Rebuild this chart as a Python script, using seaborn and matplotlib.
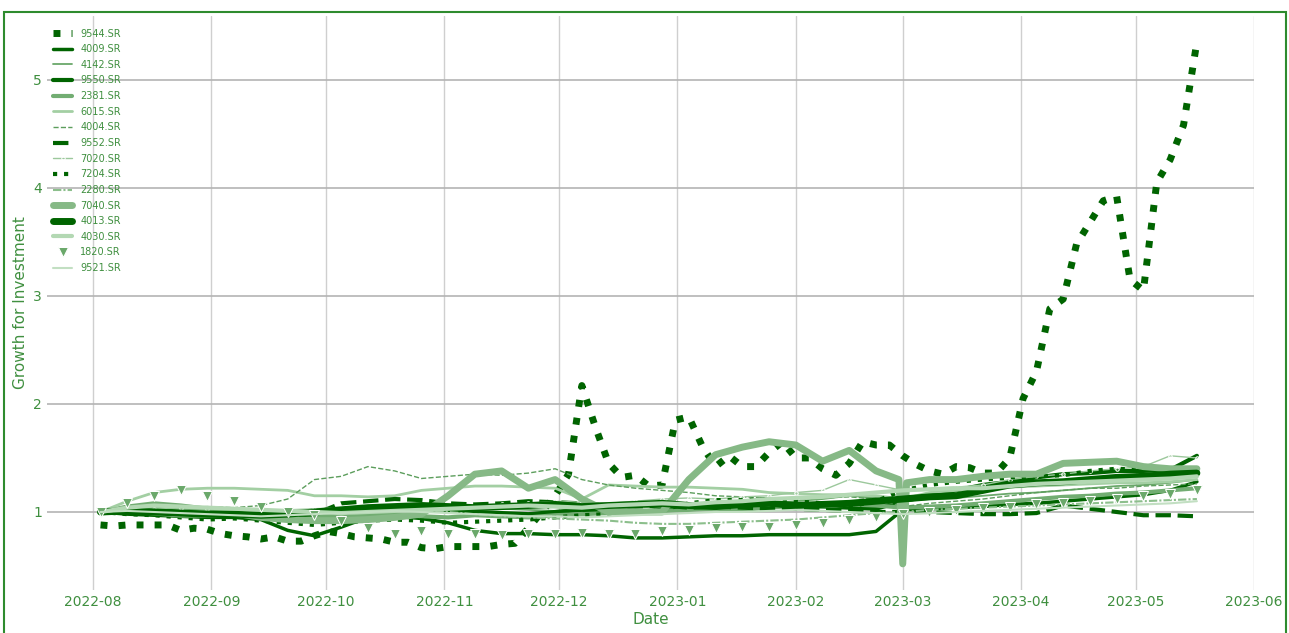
import numpy as np
import pandas as pd
import seaborn as sns
import matplotlib.pyplot as plt
import matplotlib.dates as mdates
from matplotlib.patches import Rectangle

sns.set_theme(style="whitegrid")
plt.rcParams["font.family"] = ["DejaVu Sans"]

TEXT = "#3f8f3f"
DARK = "#006400"
MID = "#5c9e5c"
LIGHT = "#a3cfa3"

# weekly sample dates shared by most tickers
dates = pd.date_range("2022-08-03", "2023-05-17", freq="7D")

# 9544.SR is sampled twice a week because it moves a lot
dates_9544 = pd.date_range("2022-08-03", periods=83, freq="84h")
g_9544 = [0.88, 0.87, 0.88, 0.88, 0.88, 0.88, 0.83, 0.85, 0.84, 0.80,
          0.78, 0.77, 0.75, 0.77, 0.73, 0.73, 0.78, 0.82, 0.80, 0.77,
          0.76, 0.75, 0.72, 0.72, 0.67, 0.66, 0.68, 0.68, 0.68, 0.68,
          0.70, 0.71, 0.85, 1.00, 1.15, 1.35, 2.17, 1.79, 1.45, 1.32,
          1.34, 1.24, 1.25, 1.85, 1.88, 1.61, 1.42, 1.52, 1.42, 1.42,
          1.55, 1.65, 1.50, 1.50, 1.40, 1.34, 1.45, 1.65, 1.62, 1.62,
          1.52, 1.44, 1.38, 1.35, 1.42, 1.41, 1.36, 1.36, 1.50, 2.05,
          2.30, 2.88, 2.97, 3.48, 3.68, 3.88, 3.92, 3.15, 3.05, 4.05,
          4.26, 4.58, 5.35]

g_4009 = [1.00, 0.98, 0.97, 0.96, 0.95, 0.95, 0.93, 0.83, 0.78, 0.86, 0.95, 0.96, 0.94, 0.90,
          0.83, 0.80, 0.80, 0.79, 0.79, 0.78, 0.76, 0.76, 0.77, 0.78, 0.78, 0.79, 0.79, 0.79,
          0.79, 0.82, 1.02, 1.03, 1.04, 1.05, 1.07, 1.08, 1.10, 1.12, 1.14, 1.16, 1.20, 1.28]
g_4142 = [1.00, 1.03, 1.05, 1.03, 1.02, 1.01, 1.00, 1.00, 1.02, 1.03, 1.02, 1.01, 1.00, 1.02,
          1.04, 1.03, 1.02, 1.01, 1.03, 1.02, 1.04, 1.05, 1.06, 1.07, 1.06, 1.08, 1.10, 1.12,
          1.15, 1.13, 1.10, 1.12, 1.13, 1.15, 1.17, 1.18, 1.20, 1.22, 1.24, 1.25, 1.27, 1.30]
g_9550 = [1.00, 1.00, 0.99, 0.98, 0.97, 0.96, 0.95, 0.97, 0.98, 0.99, 1.00, 1.02, 1.03, 1.02,
          1.00, 0.99, 0.98, 1.00, 1.02, 1.01, 1.00, 1.02, 1.04, 1.05, 1.06, 1.05, 1.06, 1.05,
          1.04, 1.03, 1.10, 1.15, 1.20, 1.25, 1.28, 1.32, 1.35, 1.36, 1.38, 1.38, 1.39, 1.52]
g_2381 = [1.00, 1.05, 1.08, 1.06, 1.03, 1.02, 1.01, 0.98, 0.96, 0.95, 0.97, 0.98, 0.96, 0.95,
          0.97, 0.96, 0.95, 0.97, 0.98, 0.99, 1.00, 1.01, 1.02, 1.03, 1.02, 1.04, 1.06, 1.05,
          1.07, 1.06, 1.04, 1.05, 1.06, 1.08, 1.10, 1.12, 1.14, 1.15, 1.17, 1.18, 1.20, 1.22]
g_6015 = [1.00, 1.10, 1.18, 1.21, 1.22, 1.22, 1.21, 1.20, 1.15, 1.15, 1.14, 1.15, 1.20, 1.22,
          1.24, 1.24, 1.23, 1.22, 1.12, 1.25, 1.24, 1.23, 1.23, 1.22, 1.21, 1.18, 1.17, 1.16,
          1.16, 1.15, 1.12, 1.18, 1.20, 1.22, 1.23, 1.24, 1.25, 1.26, 1.27, 1.27, 1.28, 1.30]
g_4004 = [1.00, 1.02, 1.03, 1.04, 1.05, 1.04, 1.06, 1.12, 1.30, 1.33, 1.42, 1.38, 1.31, 1.33,
          1.35, 1.34, 1.36, 1.40, 1.30, 1.25, 1.22, 1.20, 1.18, 1.15, 1.14, 1.13, 1.12, 1.13,
          1.14, 1.12, 1.05, 1.08, 1.10, 1.12, 1.15, 1.18, 1.20, 1.22, 1.22, 1.24, 1.25, 1.26]
g_9552 = [1.00, 1.01, 1.02, 1.00, 0.99, 0.98, 0.97, 0.96, 0.98, 1.08, 1.10, 1.12, 1.11, 1.08,
          1.07, 1.08, 1.10, 1.09, 1.08, 1.06, 1.05, 1.06, 1.04, 1.05, 1.04, 1.03, 1.03, 1.02,
          1.01, 1.00, 1.00, 1.00, 0.99, 0.98, 0.98, 0.99, 1.06, 1.03, 1.00, 0.97, 0.97, 0.96]
g_7020 = [1.00, 1.02, 1.03, 1.04, 1.03, 1.02, 1.01, 1.02, 1.03, 1.04, 1.05, 1.06, 1.07, 1.06,
          1.05, 1.07, 1.08, 1.10, 1.09, 1.08, 1.10, 1.12, 1.13, 1.12, 1.14, 1.15, 1.18, 1.20,
          1.30, 1.25, 1.20, 1.22, 1.23, 1.25, 1.30, 1.33, 1.35, 1.38, 1.40, 1.42, 1.52, 1.50]
g_7204 = [1.00, 0.98, 0.97, 0.95, 0.93, 0.94, 0.92, 0.90, 0.88, 0.90, 0.92, 0.93, 0.92, 0.90,
          0.91, 0.92, 0.93, 0.95, 0.97, 0.98, 0.99, 1.02, 1.08, 1.11, 1.11, 1.12, 1.10, 1.08,
          1.05, 1.10, 1.20, 1.25, 1.28, 1.30, 1.32, 1.33, 1.34, 1.38, 1.40, 1.39, 1.40, 1.40]
g_2280 = [1.00, 1.02, 1.01, 1.00, 0.99, 0.98, 0.97, 0.99, 1.01, 1.02, 1.03, 1.04, 1.02, 1.00,
          0.98, 0.96, 0.95, 0.94, 0.93, 0.92, 0.90, 0.89, 0.89, 0.90, 0.91, 0.92, 0.93, 0.95,
          0.97, 0.99, 1.00, 1.02, 1.03, 1.04, 1.05, 1.06, 1.07, 1.08, 1.09, 1.10, 1.11, 1.12]
g_7040 = [1.00, 1.02, 1.00, 0.98, 0.98, 0.99, 0.95, 0.93, 0.92, 0.92, 0.93, 0.95, 0.98, 1.15,
          1.35, 1.38, 1.22, 1.30, 1.12, 1.00, 1.00, 1.00, 1.30, 1.53, 1.60, 1.65, 1.62, 1.47,
          1.57, 1.38, 0.52, 1.30, 1.30, 1.33, 1.35, 1.35, 1.45, 1.46, 1.47, 1.42, 1.40, 1.40]
# the one-day drop of 7040.SR around 2023-03-01
dip_dates = pd.to_datetime(["2023-02-28", "2023-03-02"])
dip_7040 = [1.30, 1.27]
g_4013 = [1.00, 1.01, 1.00, 0.99, 0.98, 0.98, 0.97, 0.98, 1.00, 1.02, 1.04, 1.05, 1.06, 1.05,
          1.04, 1.05, 1.06, 1.07, 1.05, 1.06, 1.07, 1.08, 1.06, 1.05, 1.07, 1.08, 1.06, 1.07,
          1.08, 1.10, 1.12, 1.14, 1.15, 1.20, 1.25, 1.27, 1.28, 1.30, 1.32, 1.33, 1.35, 1.36]
g_4030 = [1.00, 1.04, 1.06, 1.05, 1.04, 1.03, 1.02, 1.01, 1.00, 0.99, 1.00, 1.01, 1.02, 1.03,
          1.04, 1.05, 1.06, 1.05, 1.04, 1.06, 1.07, 1.08, 1.07, 1.09, 1.10, 1.12, 1.13, 1.14,
          1.16, 1.18, 1.20, 1.21, 1.22, 1.22, 1.24, 1.26, 1.27, 1.28, 1.29, 1.30, 1.31, 1.33]
g_1820 = [1.00, 1.08, 1.15, 1.20, 1.15, 1.10, 1.05, 1.00, 0.97, 0.92, 0.85, 0.80, 0.82, 0.80,
          0.80, 0.79, 0.80, 0.80, 0.81, 0.80, 0.80, 0.82, 0.83, 0.85, 0.86, 0.86, 0.88, 0.90,
          0.93, 0.95, 0.98, 1.00, 1.02, 1.04, 1.05, 1.07, 1.08, 1.10, 1.12, 1.15, 1.17, 1.20]
g_9521 = [1.00, 1.01, 1.00, 0.99, 0.98, 0.97, 0.96, 0.97, 0.98, 0.99, 1.00, 1.01, 1.00, 0.99,
          0.98, 0.97, 0.96, 0.96, 0.95, 0.96, 0.97, 0.98, 0.99, 1.00, 1.00, 1.01, 1.02, 1.01,
          1.00, 0.99, 0.98, 0.99, 1.00, 1.01, 1.02, 1.03, 1.04, 1.05, 1.06, 1.07, 1.08, 1.10]

s7040 = pd.concat([pd.Series(g_7040, index=dates), pd.Series(dip_7040, index=dip_dates)]).sort_index()

series = [
    ("9544.SR", dates_9544, g_9544, dict(color=DARK, lw=5, ls=(0, (1, 1.6)))),
    ("4009.SR", dates, g_4009, dict(color=DARK, lw=2.5)),
    ("4142.SR", dates, g_4142, dict(color="#6aa86a", lw=1.3)),
    ("9550.SR", dates, g_9550, dict(color=DARK, lw=3)),
    ("2381.SR", dates, g_2381, dict(color="#72ad72", lw=3)),
    ("6015.SR", dates, g_6015, dict(color=LIGHT, lw=2)),
    ("4004.SR", dates, g_4004, dict(color=MID, lw=1, ls="--")),
    ("9552.SR", dates, g_9552, dict(color=DARK, lw=3, ls="--")),
    ("7020.SR", dates, g_7020, dict(color="#9cc89c", lw=1, marker="o", ms=2.5, mfc="none")),
    ("7204.SR", dates, g_7204, dict(color=DARK, lw=3, ls=":")),
    ("2280.SR", dates, g_2280, dict(color="#8cbf8c", lw=1.5, ls=(0, (4, 1, 1, 1)))),
    ("7040.SR", s7040.index, s7040.values, dict(color="#86b986", lw=5)),
    ("4013.SR", dates, g_4013, dict(color=DARK, lw=5)),
    ("4030.SR", dates, g_4030, dict(color="#b3d8b3", lw=3)),
    ("1820.SR", dates, g_1820, dict(color="#6aa86a", lw=0, ls="", marker="v", ms=7)),
    ("9521.SR", dates, g_9521, dict(color="#c2dfc2", lw=1.5)),
]

fig, ax = plt.subplots(figsize=(12.89, 6.33), dpi=100)
fig.subplots_adjust(left=0.0365, right=0.973, top=0.975, bottom=0.068)

for name, x, y, style in series:
    sns.lineplot(x=x, y=y, ax=ax, label=name, **style)

ax.set_xlim(pd.Timestamp("2022-07-20"), pd.Timestamp("2023-06-01"))
ax.xaxis.set_major_locator(mdates.MonthLocator())
ax.xaxis.set_major_formatter(mdates.DateFormatter("%Y-%m"))

ax.grid(axis="y", color="#b4b4b4", lw=1.2)
ax.grid(axis="x", color="#cfcfcf", lw=1)
for sp in ax.spines.values():
    sp.set_visible(False)

ax.tick_params(axis="both", colors=TEXT, labelsize=10, length=0)
ax.set_xlabel("Date", color=TEXT, fontsize=11, labelpad=2)
ax.set_ylabel("Growth for Investment", color=TEXT, fontsize=11, labelpad=4)

leg = ax.legend(loc="upper left", bbox_to_anchor=(0.0, 0.988), fontsize=7,
                frameon=False, labelspacing=0.58, borderaxespad=0.2)
for t in leg.get_texts():
    t.set_color(TEXT)

fig.patches.append(Rectangle((4 / 1289, -0.05), 1282 / 1289, 1.05 - 12 / 633,
                             transform=fig.transFigure, fill=False,
                             edgecolor="#2e8b2e", lw=1.5))

fig.savefig("out.png", dpi=100)
